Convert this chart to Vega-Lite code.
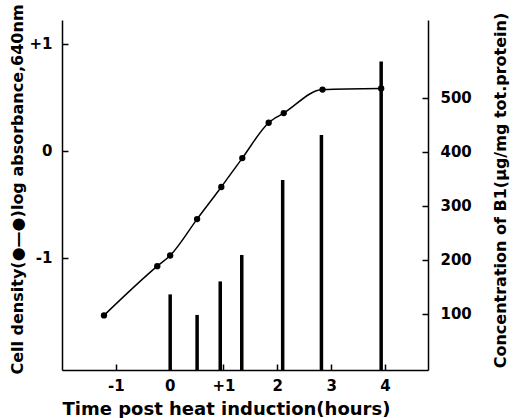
{
  "$schema": "https://vega.github.io/schema/vega-lite/v6.json",
  "width": 366,
  "height": 350,
  "autosize": {"type": "none"},
  "padding": {"left": 62, "top": 20, "right": 85, "bottom": 48},
  "background": "white",
  "config": {
    "view": {"stroke": null},
    "axis": {
      "domainColor": "black", "domainWidth": 1.5, "tickColor": "black", "tickWidth": 1.5,
      "grid": false,
      "labelFont": "DejaVu Sans", "labelFontWeight": "bold", "labelFontSize": 15, "labelColor": "black",
      "titleFont": "DejaVu Sans", "titleFontWeight": "bold", "titleFontSize": 16, "titleColor": "black",
      "titleBaseline": "middle"
    }
  },
  "datasets": {
    "density": [
      {"t": -1.22, "v": -1.54},
      {"t": -0.23, "v": -1.08},
      {"t": 0.01, "v": -0.98},
      {"t": 0.51, "v": -0.64},
      {"t": 0.96, "v": -0.34},
      {"t": 1.35, "v": -0.07},
      {"t": 1.84, "v": 0.26},
      {"t": 2.12, "v": 0.35},
      {"t": 2.84, "v": 0.57},
      {"t": 3.93, "v": 0.58}
    ],
    "b1": [
      {"t": 0.01, "c": 136},
      {"t": 0.51, "c": 98},
      {"t": 0.94, "c": 160},
      {"t": 1.34, "c": 209},
      {"t": 2.10, "c": 348},
      {"t": 2.82, "c": 431},
      {"t": 3.93, "c": 567}
    ]
  },
  "layer": [
    {
      "data": {"name": "b1"},
      "mark": {"type": "rule", "color": "black", "strokeWidth": 3.5},
      "encoding": {
        "x": {
          "field": "t", "type": "quantitative",
          "scale": {"domain": [-2, 4.8], "nice": false, "zero": false},
          "axis": {
            "orient": "bottom",
            "values": [-1, 0, 1, 2, 3, 4],
            "labelExpr": "datum.value == 1 ? '+1' : datum.value == -1 ? '-1' : datum.label",
            "offset": -6, "domain": false, "tickSize": 6, "labelPadding": 8,
            "title": "Time post heat induction(hours)", "titleFontSize": 18,
            "titleAlign": "left", "titleAnchor": "start", "titleX": 0, "titleY": 45
          }
        },
        "y": {
          "field": "c", "type": "quantitative",
          "scale": {"domain": [-4, 644], "nice": false, "zero": false},
          "axis": {
            "orient": "right", "values": [100, 200, 300, 400, 500],
            "offset": -6, "domain": false, "tickSize": 6, "labelPadding": 12,
            "title": "Concentration of B1(µg/mg tot.protein)", "titleAngle": 270,
            "titleX": 78, "titleY": 170
          }
        },
        "y2": {"datum": -4}
      }
    },
    {
      "data": {"name": "density"},
      "encoding": {
        "x": {
          "field": "t", "type": "quantitative",
          "scale": {"domain": [-2, 4.8], "nice": false, "zero": false},
          "axis": {
            "orient": "bottom",
            "values": [-2, 4.8], "grid": true, "gridColor": "black", "gridWidth": 1.5, "gridOpacity": 1,
            "ticks": false, "labels": false, "title": null
          }
        },
        "y": {
          "field": "v", "type": "quantitative",
          "scale": {"domain": [-2.05, 1.22], "nice": false, "zero": false},
          "axis": {
            "orient": "left", "values": [-1, 0, 1],
            "labelExpr": "datum.value == 1 ? '+1' : datum.value == -1 ? '-1' : datum.label",
            "offset": -6, "domain": false, "tickSize": 6, "labelPadding": 10,
            "title": "Cell density(●—●)log absorbance,640nm",
            "titleX": -51, "titleY": 169
          }
        }
      },
      "layer": [
        {"mark": {"type": "line", "color": "black", "strokeWidth": 1.5, "interpolate": "monotone"}},
        {"mark": {"type": "point", "filled": true, "color": "black", "size": 40, "opacity": 1}}
      ]
    }
  ],
  "resolve": {"scale": {"y": "independent"}, "axis": {"x": "independent"}}
}
